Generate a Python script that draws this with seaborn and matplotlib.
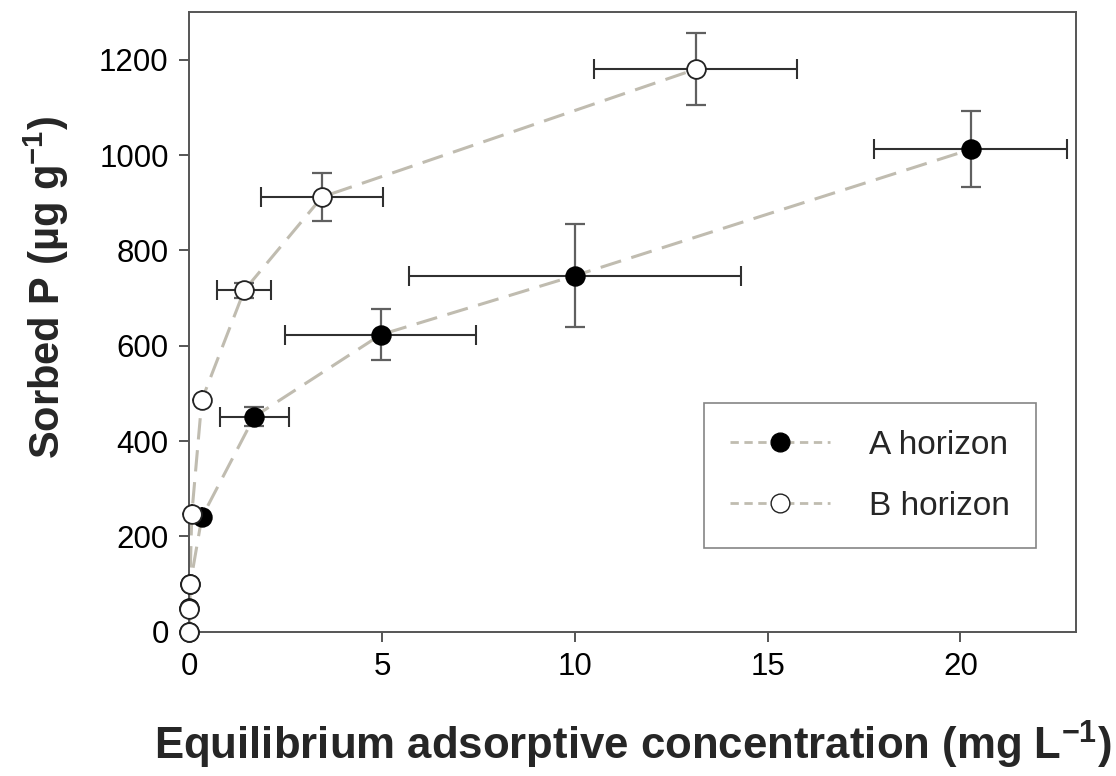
import numpy as np
import pandas as pd
import matplotlib
matplotlib.use("Agg")
import matplotlib.pyplot as plt
from matplotlib.lines import Line2D
import seaborn as sns

# Sorption isotherm data: equilibrium concentration (mg/L) vs sorbed P (ug/g)
a_conc = [0.0, 0.0, 0.02, 0.32, 1.68, 4.96, 10.0, 20.27]
a_sorbed = [0, 50, 100, 240, 451, 623, 747, 1012]
a_conc_err = [0, 0, 0, 0, 0.9, 2.47, 4.3, 2.5]
a_sorbed_err = [0, 0, 0, 0, 20, 53, 108, 80]

b_conc = [0.0, 0.0, 0.01, 0.06, 0.32, 1.42, 3.44, 13.13]
b_sorbed = [0, 48, 100, 247, 486, 716, 912, 1180]
b_conc_err = [0, 0, 0, 0, 0, 0.7, 1.58, 2.63]
b_sorbed_err = [0, 0, 0, 0, 0, 15, 50, 76]

series_labels = ["A horizon", "B horizon"]

sns.set_theme(style="white")
plt.rcParams["font.family"] = ["Liberation Sans", "DejaVu Sans"]
plt.rcParams["mathtext.fontset"] = "custom"
plt.rcParams["mathtext.rm"] = "Liberation Sans"
plt.rcParams["mathtext.bf"] = "Liberation Sans:bold"

line_col = "#c0bcb0"
spine_col = "#555555"

df_a = pd.DataFrame({"conc": a_conc, "sorbed": a_sorbed})
df_b = pd.DataFrame({"conc": b_conc, "sorbed": b_sorbed})

fig = plt.figure(figsize=(11.16, 7.76), dpi=100)
ax = fig.add_axes([0.1698, 0.186, 0.7944, 0.7985])

# dashed connecting lines for each horizon
for df in (df_a, df_b):
    sns.lineplot(data=df, x="conc", y="sorbed", sort=False, estimator=None,
                 color=line_col, lw=2.2, dashes=False, ax=ax, zorder=1)
for ln in ax.lines:
    ln.set_dashes((7, 3.5))

# horizontal (concentration) and vertical (sorbed) error bars
xerr_kw = dict(fmt="none", ecolor="#303030", elinewidth=1.5, capsize=7,
               capthick=1.5, zorder=2, clip_on=False)
yerr_kw = dict(fmt="none", ecolor="#606060", elinewidth=1.6, capsize=7,
               capthick=1.6, zorder=2, clip_on=False)
for cx, sy, ex, ey in ((a_conc, a_sorbed, a_conc_err, a_sorbed_err),
                       (b_conc, b_sorbed, b_conc_err, b_sorbed_err)):
    ax.errorbar(cx, sy, xerr=ex, **xerr_kw)
    ax.errorbar(cx, sy, yerr=ey, **yerr_kw)

ax.plot(a_conc, a_sorbed, ls="none", marker="o", ms=13.5, mfc="black",
        mec="black", mew=1.2, zorder=3, clip_on=False)
ax.plot(b_conc, b_sorbed, ls="none", marker="o", ms=13.5, mfc="white",
        mec="#222222", mew=1.3, zorder=4, clip_on=False)

ax.set_xlim(0, 23)
ax.set_ylim(0, 1300)
ax.set_xticks(np.arange(0, 21, 5))
ax.set_yticks(np.arange(0, 1201, 200))

for s in ax.spines.values():
    s.set_color(spine_col)
    s.set_linewidth(1.4)

ax.tick_params(axis="both", which="major", direction="out", length=7,
               width=1.4, color=spine_col, labelsize=22.5, labelcolor="black",
               pad=8, bottom=True, left=True)

ax.set_xlabel(r"Equilibrium adsorptive concentration (mg L$^{\mathbf{-1}}$)",
              fontsize=31.5, fontweight="bold", labelpad=26)
ax.set_ylabel(r"Sorbed P (µg g$^{\mathbf{-1}}$)",
              fontsize=30, fontweight="bold", labelpad=20)
ax.yaxis.label.set_y(0.555)

handles = [
    Line2D([], [], color=line_col, lw=2.0, dashes=(3, 2), marker="o", ms=13.5,
           mfc="black", mec="black"),
    Line2D([], [], color=line_col, lw=2.0, dashes=(3, 2), marker="o", ms=13.5,
           mfc="white", mec="#222222"),
]
leg = ax.legend(handles, series_labels, loc="upper left",
                bbox_to_anchor=(0.58, 0.369), fontsize=24, frameon=True,
                fancybox=False, edgecolor="#666666", handlelength=3.0,
                handletextpad=1.15, borderpad=0.8, labelspacing=0.9,
                borderaxespad=0)
leg.get_frame().set_linewidth(1.2)

fig.savefig("out.png", dpi=100)
